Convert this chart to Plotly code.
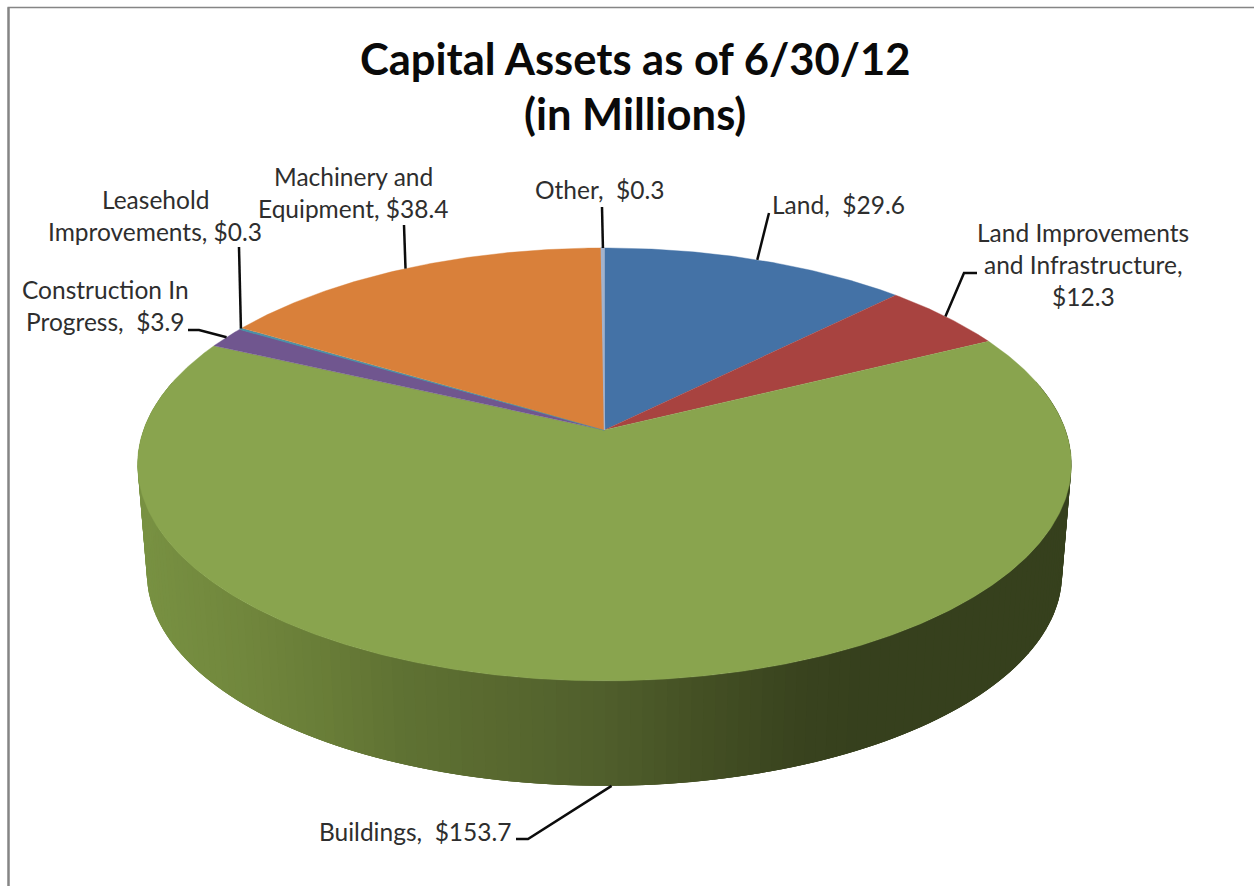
import numpy as np
import plotly.graph_objects as go

# Capital assets, in millions of dollars, clockwise from twelve o'clock
categories = ["Land", "Land Improvements and Infrastructure", "Buildings",
              "Construction In Progress", "Leasehold Improvements",
              "Machinery and Equipment", "Other"]
values = [29.6, 12.3, 153.7, 3.9, 0.3, 38.4, 0.3]
slice_colors = ["#4472a6", "#a84340", "#89a44e", "#70568f", "#4a90a8", "#d9803a", "#a3b2cc"]

title_lines = ["Capital Assets as of 6/30/12", "(in Millions)"]

# How each data label wraps: category text on its own lines, then the value
label_wraps = {
    "Land": ["{name},\u00a0 {val}"],
    "Land Improvements and Infrastructure": ["Land Improvements", "and Infrastructure,", "{val}"],
    "Buildings": ["{name},\u00a0 {val}"],
    "Construction In Progress": ["Construction In", "Progress,\u00a0 {val}"],
    "Leasehold Improvements": ["Leasehold", "Improvements, {val}"],
    "Machinery and Equipment": ["Machinery and", "Equipment, {val}"],
    "Other": ["{name},\u00a0 {val}"],
}
# Centre of the first label line and the elbow of its leader
label_place = {
    "Land": (838, 204, [(769, 213)]),
    "Land Improvements and Infrastructure": (1083, 232, [(964, 273), (977, 273)]),
    "Buildings": (415, 831, [(528, 839), (516, 839)]),
    "Construction In Progress": (105, 289, [(199, 330), (188, 330)]),
    "Leasehold Improvements": (155, 199, [(239, 247)]),
    "Machinery and Equipment": (353, 176, [(404, 225)]),
    "Other": (599, 189, [(602, 207)]),
}

# Projection of the pie disc onto the page (perspective view from above)
APEX_X, APEX_Y = 604.5, 430.0
HALF_W, HALF_H, PERSP = 461.0, 211.0, 0.159
WALL_DROP, WALL_SCALE = 110.0, 0.98

# Shading of the side wall across the page
wall_shade_x = [137, 250, 330, 400, 500, 600, 700, 800, 860, 1075]
wall_shade_rgb = [(120, 145, 66), (112, 134, 60), (104, 124, 55), (95, 114, 51), (88, 104, 47),
                  (80, 95, 44), (68, 80, 36), (57, 67, 30), (54, 64, 29), (54, 64, 29)]


def project(theta, lower=False):
    u, v = np.sin(theta), np.cos(theta)
    d = 1 + PERSP * v
    s = WALL_SCALE if lower else 1.0
    x = APEX_X + s * HALF_W * u / d
    y = APEX_Y - s * HALF_H * v / d + (WALL_DROP if lower else 0.0)
    return x, y


total = sum(values)
edges = np.cumsum([0.0] + values) / total * 2 * np.pi
mids = (edges[:-1] + edges[1:]) / 2

fig = go.Figure()


def add_poly(xs, ys, color, width=0.6):
    fig.add_trace(go.Scatter(x=xs, y=ys, mode="lines", fill="toself", fillcolor=color,
                             line=dict(color=color, width=width), hoverinfo="skip",
                             showlegend=False))


# Side wall: overlapping bands around the front of the largest slice, painted
# right to left so each band's edge blends into its neighbour without a seam
build = categories.index("Buildings")
wall_theta = np.linspace(edges[build], edges[build + 1], 180)
wall_theta = wall_theta[np.cos(wall_theta) < 0.25]
for j in range(len(wall_theta) - 1):
    band = wall_theta[j:j + 4]
    tx, ty = project(band)
    lx, ly = project(band[::-1], lower=True)
    px = (project(wall_theta[j])[0] + project(wall_theta[j + 1])[0]) / 2
    rgb = [int(round(np.interp(px, wall_shade_x, [c[i] for c in wall_shade_rgb]))) for i in range(3)]
    add_poly(list(tx) + list(lx), list(ty) + list(ly), "rgb(%d,%d,%d)" % tuple(rgb), width=0)

# Top face of the pie; the two sliver slices get a heavier outline to stay visible
for i, color in enumerate(slice_colors):
    n = max(4, int((edges[i + 1] - edges[i]) * 120))
    th = np.linspace(edges[i], edges[i + 1], n)
    rx, ry = project(th)
    add_poly([APEX_X] + list(rx), [APEX_Y] + list(ry), color, width=1.4 if values[i] < 1 else 0.4)

# Leader lines, starting on the rim at each slice's middle angle
for i, name in enumerate(categories):
    if name == "Buildings":
        sx, sy = project(mids[i], lower=True)
    else:
        sx, sy = project(mids[i])
    pts = label_place[name][2]
    fig.add_trace(go.Scatter(x=[sx] + [p[0] for p in pts], y=[sy] + [p[1] for p in pts],
                             mode="lines", line=dict(color="#0c0c0c", width=2.5),
                             hoverinfo="skip", showlegend=False))

annotations = []
LABEL_FONT = dict(family="Lato", size=24.5, color="#2e2e2e")
TITLE_FONT = dict(family="Lato", size=43.5, color="#0a0a0a", weight="bold")
for y, line in zip((58, 113), title_lines):
    annotations.append(dict(x=634.5, y=y, text="<b>%s</b>" % line, showarrow=False,
                            xref="x", yref="y", xanchor="center", yanchor="middle",
                            font=TITLE_FONT))
for name, val in zip(categories, values):
    cx, cy, _ = label_place[name]
    for k, line in enumerate(label_wraps[name]):
        annotations.append(dict(x=cx, y=cy + 32 * k,
                                text=line.format(name=name, val="$%.1f" % val),
                                showarrow=False, xref="x", yref="y",
                                xanchor="center", yanchor="middle", font=LABEL_FONT))

fig.update_layout(
    width=1254, height=886, margin=dict(l=0, r=0, t=0, b=0),
    paper_bgcolor="white", plot_bgcolor="white", showlegend=False,
    xaxis=dict(range=[0, 1254], visible=False, fixedrange=True),
    yaxis=dict(range=[886, 0], visible=False, fixedrange=True),
    annotations=annotations,
    shapes=[
        dict(type="line", xref="x", yref="y", x0=8.5, x1=8.5, y0=7.5, y1=886,
             line=dict(color="#858585", width=2.5)),
        dict(type="line", xref="x", yref="y", x0=7.5, x1=1254, y0=7.5, y1=7.5,
             line=dict(color="#858585", width=1.5)),
    ],
)

fig.write_html("out.html")
